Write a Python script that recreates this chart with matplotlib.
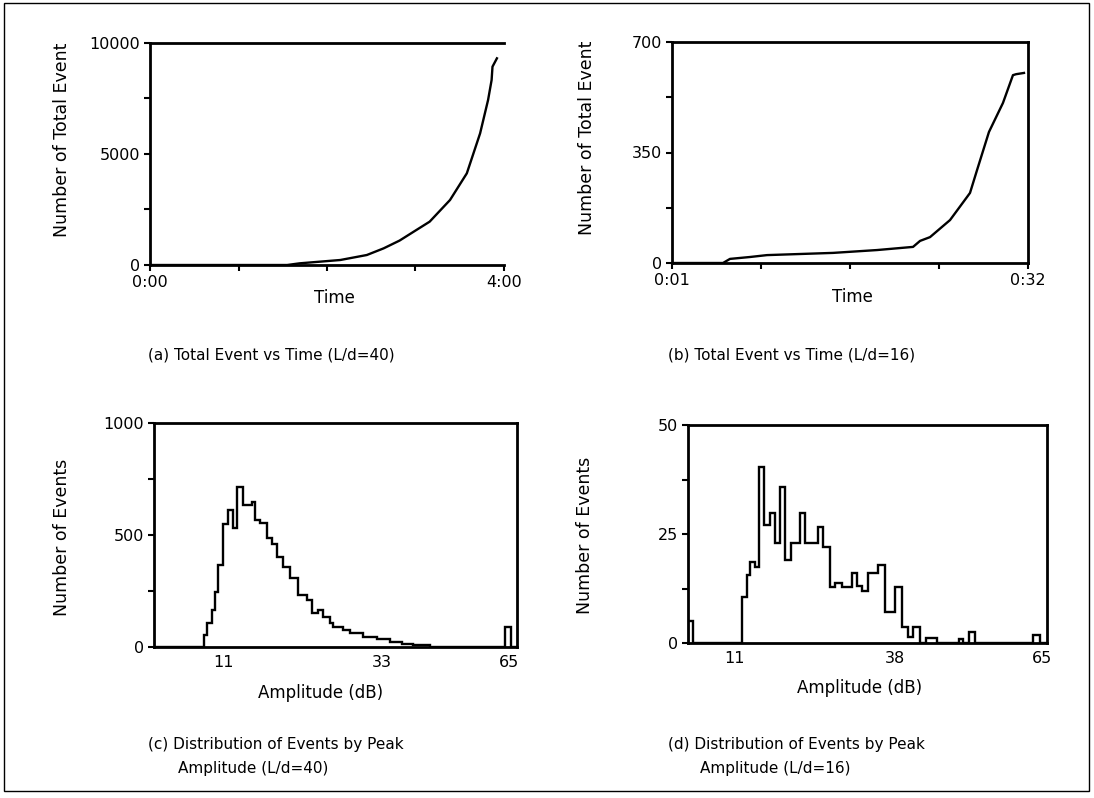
import numpy as np
import matplotlib
matplotlib.use("Agg")
import matplotlib.pyplot as plt
from matplotlib.patches import Rectangle

plt.rcParams['font.family'] = ['DejaVu Sans']

# (a) total events vs time, L/d=40  (time in hours)
a_time = [0.0, 1.55, 1.69, 2.15, 2.45, 2.64, 2.82, 3.01, 3.16, 3.39, 3.58, 3.73, 3.82, 3.86, 3.87, 3.92]
a_count = [0, 0, 75, 225, 450, 750, 1100, 1577, 1952, 2928, 4130, 5930, 7432, 8333, 8934, 9310]

# (b) total events vs time, L/d=16  (time in minutes)
b_time = [1.0, 5.44, 6.05, 7.79, 9.27, 15.02, 18.85, 21.99, 22.6, 23.47, 25.21, 26.69, 26.95,
          27.56, 28.6, 29.82, 30.69, 30.96, 31.65]
b_count = [0, 0, 13, 19, 25, 32, 41, 51, 70, 82, 136, 209, 222, 294, 415, 507, 595, 598, 602]

# (c) amplitude distribution, L/d=40
c_edges = [0, 8.95, 9.49, 10.39, 10.92, 11.46, 12.35, 13.25, 14.15, 14.86, 15.94, 17.55, 18.08,
           18.98, 20.23, 21.13, 22.02, 23.10, 24.35, 25.78, 27.39, 28.29, 29.36, 30.26, 31.51,
           32.05, 33.84, 35.09, 37.42, 39.93, 42.26, 44.40, 46.37, 49.42, 62.85, 63.92, 65]
c_counts = [0, 54, 107, 165, 245, 366, 549, 612, 531, 714, 634, 647, 567, 554, 487, 460, 402,
            357, 308, 232, 210, 152, 165, 134, 107, 89, 76, 62, 45, 36, 22, 13, 9, 0, 90, 0]

# (d) amplitude distribution, L/d=16
d_edges = [0, 0.9, 9.8, 10.7, 11.2, 12.1, 12.8, 13.7, 14.9, 15.8, 16.7, 17.6, 18.7, 20.3, 21.2,
           23.6, 24.5, 25.7, 26.6, 27.9, 29.7, 30.6, 31.5, 32.6, 34.4, 35.7, 37.5, 38.8, 39.9,
           40.8, 42.0, 43.1, 45.1, 49.1, 49.8, 50.9, 52.0, 62.5, 63.8, 65]
d_counts = [5, 0, 10.5, 15.6, 18.6, 17.4, 40.4, 27, 29.8, 23, 35.8, 19, 23, 29.8, 23, 26.5, 22,
            12.8, 13.8, 12.8, 16, 13, 12, 16, 17.9, 7, 12.8, 3.7, 1.4, 3.7, 0, 1.1, 0, 1, 0,
            2.5, 0, 1.8, 0]

c_ticks = [12.4, 40.8, 63.6]
c_ticklabels = ['11', '33', '65']
d_ticks = [8.5, 37.5, 64.1]
d_ticklabels = ['11', '38', '65']

W, H = 1094, 798


def box(left, top, right, bottom):
    return [left / W, 1 - bottom / H, (right - left) / W, (bottom - top) / H]


def style(ax, right=True):
    for s in ax.spines.values():
        s.set_linewidth(2)
    if not right:
        ax.spines['right'].set_visible(False)
    ax.tick_params(direction='out', length=4, width=1.5, labelsize=11.5, pad=3)


fig = plt.figure(figsize=(W / 100, H / 100), dpi=100)
fig.add_artist(Rectangle((4 / W, 1 - 791 / H), 1085 / W, 788 / H, transform=fig.transFigure,
                         fill=False, lw=1, ec='black'))

# (a)
ax = fig.add_axes(box(150, 43, 504, 265))
ax.plot(a_time, a_count, color='black', lw=1.7)
ax.set_xlim(0, 4)
ax.set_ylim(0, 10000)
ax.set_xticks([0, 1, 2, 3, 4], ['0:00', '', '', '', '4:00'])
ax.set_yticks([0, 2500, 5000, 7500, 10000], ['0', '', '5000', '', '10000'])
style(ax, right=False)
ax.set_xlabel('Time', fontsize=12)
ax.xaxis.set_label_coords(0.52, -0.149)
ax.xaxis.label.set_va('center')
ax.set_ylabel('Number of Total Event', fontsize=12.5, va='center')
ax.yaxis.set_label_coords(-0.249, 0.563)

# (b)
ax = fig.add_axes(box(672, 42, 1028, 263))
ax.plot(b_time, b_count, color='black', lw=1.7)
ax.set_xlim(1, 32)
ax.set_ylim(0, 700)
ax.set_xticks(np.linspace(1, 32, 5), ['0:01', '', '', '', '0:32'])
ax.set_yticks([0, 175, 350, 525, 700], ['0', '', '350', '', '700'])
style(ax)
ax.set_xlabel('Time', fontsize=12)
ax.xaxis.set_label_coords(0.508, -0.154)
ax.xaxis.label.set_va('center')
ax.set_ylabel('Number of Total Event', fontsize=12.5, va='center')
ax.yaxis.set_label_coords(-0.239, 0.566)

# (c)
ax = fig.add_axes(box(154, 423, 517, 647))
ax.stairs(c_counts, c_edges, color='black', lw=1.7)
ax.set_xlim(0, 65)
ax.set_ylim(0, 1000)
ax.set_xticks(c_ticks, c_ticklabels)
ax.set_yticks([0, 250, 500, 750, 1000], ['0', '', '500', '', '1000'])
style(ax)
ax.tick_params(axis='x', length=0, pad=6)
ax.set_xlabel('Amplitude (dB)', fontsize=12)
ax.xaxis.set_label_coords(0.46, -0.205)
ax.xaxis.label.set_va('center')
ax.set_ylabel('Number of Events', fontsize=12.5, va='center')
ax.yaxis.set_label_coords(-0.253, 0.491)

# (d)
ax = fig.add_axes(box(688, 425, 1047, 643))
ax.stairs(d_counts, d_edges, color='black', lw=1.7)
ax.set_xlim(0, 65)
ax.set_ylim(0, 50)
ax.set_xticks(d_ticks, d_ticklabels)
ax.set_yticks([0, 12.5, 25, 37.5, 50], ['0', '', '25', '', '50'])
style(ax)
ax.tick_params(axis='x', length=0, pad=6)
ax.set_xlabel('Amplitude (dB)', fontsize=12)
ax.xaxis.set_label_coords(0.479, -0.206)
ax.xaxis.label.set_va('center')
ax.set_ylabel('Number of Events', fontsize=12.5, va='center')
ax.yaxis.set_label_coords(-0.287, 0.495)

# captions
cap = dict(fontsize=11, va='center', ha='left')
fig.text(148 / W, 1 - 355 / H, '(a) Total Event vs Time (L/d=40)', **cap)
fig.text(668 / W, 1 - 355 / H, '(b) Total Event vs Time (L/d=16)', **cap)
fig.text(148 / W, 1 - 745 / H, '(c) Distribution of Events by Peak', **cap)
fig.text(178 / W, 1 - 768 / H, 'Amplitude (L/d=40)', **cap)
fig.text(668 / W, 1 - 745 / H, '(d) Distribution of Events by Peak', **cap)
fig.text(700 / W, 1 - 768 / H, 'Amplitude (L/d=16)', **cap)

fig.savefig('out.png', dpi=100)
